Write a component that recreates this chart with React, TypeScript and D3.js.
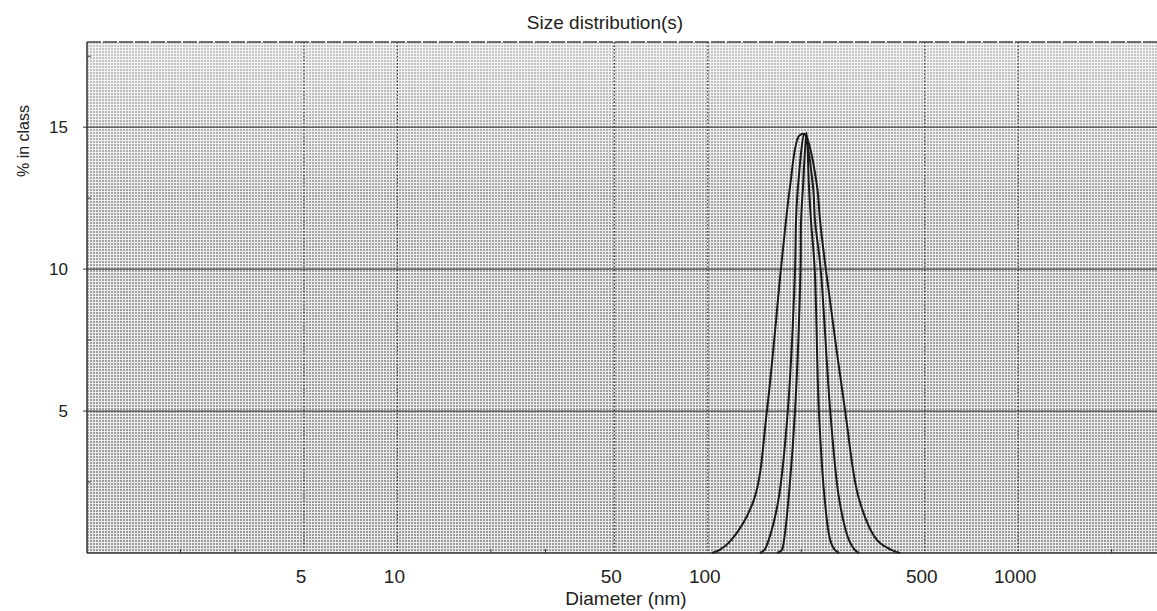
import { useEffect, useRef } from 'react';
import * as d3 from 'd3';

// diameter (nm), % in class
const seriesA: [number, number][] = [
  [103, 0], [109, 0.1], [119, 0.45], [141, 1.9], [155, 5], [172, 10], [178.6, 11.7],
  [184, 12.9], [197, 14.7], [206, 14.75], [210, 14.55], [225, 12.9], [230, 11.7],
  [240, 10], [277, 5], [307, 1.9], [351, 0.45], [392, 0.1], [416, 0],
];
const seriesB: [number, number][] = [
  [147, 0], [152, 0.1], [157, 0.45], [169, 1.9], [181, 5], [191, 10], [192.4, 11.7],
  [195.2, 12.9], [205, 14.75], [218.3, 12.9], [221.5, 11.7], [231, 10], [248, 5],
  [265, 1.9], [285, 0.45], [298, 0.1], [307, 0],
];
const seriesC: [number, number][] = [
  [167, 0], [173, 0.1], [176, 0.45], [182, 1.9], [191, 5], [199, 10], [199.7, 11.7],
  [202.6, 12.9], [208, 14.8], [211.8, 12.9], [215, 11.7], [221, 10], [228, 5],
  [238, 1.9], [248, 0.45], [257, 0.1], [265, 0],
];

const xMajorTicks = [5, 10, 50, 100, 500, 1000];
const xMinorTicks = [2, 3, 20, 30, 200, 300, 2000];
const yMajorTicks = [5, 10, 15];
const yMinorTicks = [2.5, 7.5, 12.5, 17.5];
const xDomain: [number, number] = [1, 2800];
const yDomain: [number, number] = [0, 18];

const App = () => {
  const svgRef = useRef<SVGSVGElement>(null);

  useEffect(() => {
    const svg = d3.select(svgRef.current);
    svg.selectAll('*').remove();

    const width = 1157;
    const height = 611;
    const left = 87, right = 1157, top = 42, bottom = 553;
    const font = 'Liberation Sans, Arial, sans-serif';

    svg.attr('width', width).attr('height', height);

    const x = d3.scaleLog().domain(xDomain).range([left, right]);
    const y = d3.scaleLinear().domain(yDomain).range([bottom, top]);

    const defs = svg.append('defs');
    const pat = defs.append('pattern')
      .attr('id', 'halftone')
      .attr('patternUnits', 'userSpaceOnUse')
      .attr('width', 3)
      .attr('height', 3);
    pat.append('rect').attr('width', 3).attr('height', 3).attr('fill', '#ececec');
    pat.append('rect').attr('width', 2).attr('height', 2).attr('fill', '#9a9a9a');

    const grad = defs.append('linearGradient')
      .attr('id', 'fade')
      .attr('x1', 0).attr('y1', 0).attr('x2', 0).attr('y2', 1);
    grad.append('stop').attr('offset', '0%').attr('stop-color', '#fff').attr('stop-opacity', 0.45);
    grad.append('stop').attr('offset', '30%').attr('stop-color', '#fff').attr('stop-opacity', 0.1);
    grad.append('stop').attr('offset', '100%').attr('stop-color', '#fff').attr('stop-opacity', 0);

    svg.append('rect').attr('width', width).attr('height', height).attr('fill', '#fff');

    // plot background
    svg.append('rect')
      .attr('x', left).attr('y', top)
      .attr('width', right - left).attr('height', bottom - top)
      .attr('fill', 'url(#halftone)');
    svg.append('rect')
      .attr('x', left).attr('y', top)
      .attr('width', right - left).attr('height', bottom - top)
      .attr('fill', 'url(#fade)');

    // horizontal grid
    svg.append('g')
      .selectAll('line')
      .data(yMajorTicks)
      .enter().append('line')
      .attr('x1', left).attr('x2', right)
      .attr('y1', d => y(d)).attr('y2', d => y(d))
      .attr('stroke', '#444')
      .attr('stroke-width', 1.2);

    // vertical grid (dotted)
    svg.append('g')
      .selectAll('line')
      .data(xMajorTicks)
      .enter().append('line')
      .attr('x1', d => x(d)).attr('x2', d => x(d))
      .attr('y1', top).attr('y2', bottom)
      .attr('stroke', '#333')
      .attr('stroke-width', 1.2)
      .attr('stroke-dasharray', '1.5,2');

    // frame
    svg.append('line')
      .attr('x1', left).attr('x2', right).attr('y1', top).attr('y2', top)
      .attr('stroke', '#444').attr('stroke-width', 1.5)
      .attr('stroke-dasharray', '14,2');
    svg.append('line')
      .attr('x1', left).attr('x2', right).attr('y1', bottom).attr('y2', bottom)
      .attr('stroke', '#333').attr('stroke-width', 1.5);
    svg.append('line')
      .attr('x1', left).attr('x2', left).attr('y1', top).attr('y2', bottom)
      .attr('stroke', '#333').attr('stroke-width', 1.5);

    // minor ticks
    svg.append('g')
      .selectAll('line')
      .data(xMinorTicks)
      .enter().append('line')
      .attr('x1', d => x(d)).attr('x2', d => x(d))
      .attr('y1', bottom).attr('y2', bottom - 4)
      .attr('stroke', '#333');
    svg.append('g')
      .selectAll('line')
      .data(yMinorTicks)
      .enter().append('line')
      .attr('x1', left).attr('x2', left + 4)
      .attr('y1', d => y(d)).attr('y2', d => y(d))
      .attr('stroke', '#333');
    svg.append('g')
      .selectAll('line')
      .data(yMajorTicks)
      .enter().append('line')
      .attr('x1', left - 4).attr('x2', left)
      .attr('y1', d => y(d)).attr('y2', d => y(d))
      .attr('stroke', '#333');

    // tick labels
    svg.append('g')
      .selectAll('text')
      .data(xMajorTicks)
      .enter().append('text')
      .attr('x', d => x(d) - 3)
      .attr('y', 583)
      .attr('text-anchor', 'middle')
      .attr('font-family', font)
      .attr('font-size', 19)
      .attr('fill', '#222')
      .text(d => d);
    svg.append('g')
      .selectAll('text')
      .data(yMajorTicks)
      .enter().append('text')
      .attr('x', 68)
      .attr('y', d => y(d) + 6)
      .attr('text-anchor', 'end')
      .attr('font-family', font)
      .attr('font-size', 17)
      .attr('fill', '#222')
      .text(d => d);

    // titles
    svg.append('text')
      .attr('x', 605).attr('y', 29)
      .attr('text-anchor', 'middle')
      .attr('font-family', font).attr('font-size', 19).attr('fill', '#222')
      .text('Size distribution(s)');
    svg.append('text')
      .attr('x', 626).attr('y', 605)
      .attr('text-anchor', 'middle')
      .attr('font-family', font).attr('font-size', 19).attr('fill', '#222')
      .text('Diameter (nm)');
    svg.append('text')
      .attr('transform', 'translate(29,141) rotate(-90)')
      .attr('text-anchor', 'middle')
      .attr('font-family', font).attr('font-size', 16).attr('fill', '#222')
      .text('% in class');

    // curves
    const line = d3.line<[number, number]>()
      .x(d => x(d[0]))
      .y(d => y(d[1]))
      .curve(d3.curveCatmullRom.alpha(0.5));

    svg.append('g')
      .selectAll('path')
      .data([seriesA, seriesB, seriesC])
      .enter().append('path')
      .attr('d', d => line(d))
      .attr('fill', 'none')
      .attr('stroke', '#1a1a1a')
      .attr('stroke-width', 2);
  }, []);

  return (
    <div style={{ position: 'absolute', left: 0, top: 0 }}>
      <svg ref={svgRef} style={{ display: 'block' }}></svg>
    </div>
  );
};

export default App;
